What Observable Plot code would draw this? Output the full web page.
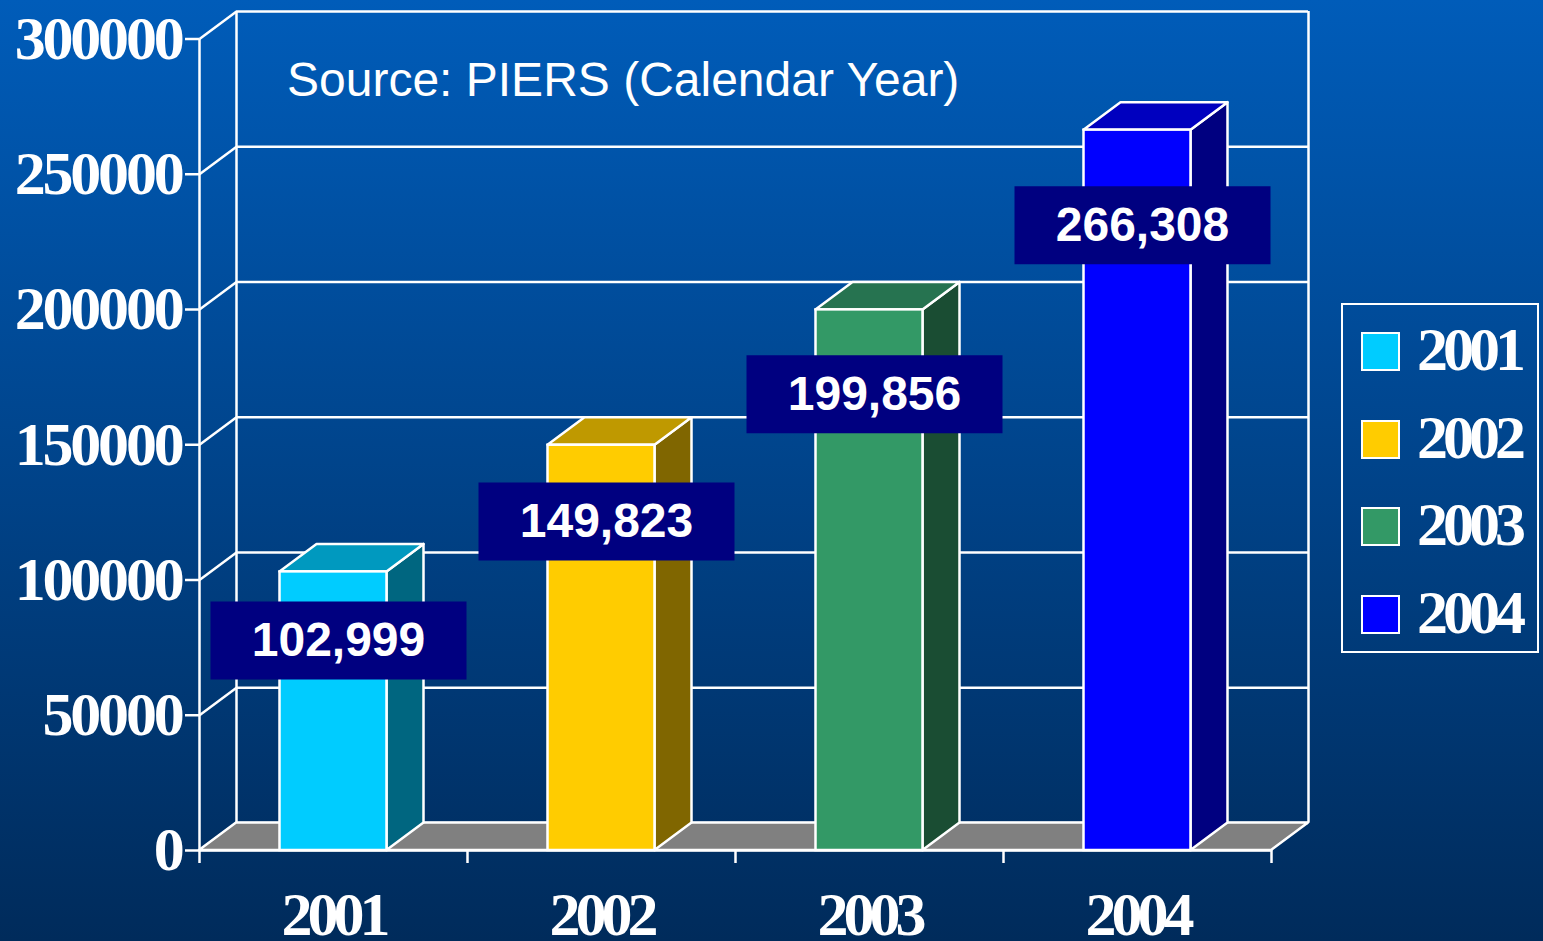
<!DOCTYPE html>
<html>
<head>
<meta charset="utf-8">
<script src="https://cdn.jsdelivr.net/npm/d3@7"></script>
<script src="https://cdn.jsdelivr.net/npm/@observablehq/plot@0.6"></script>
<style>
  html, body { margin: 0; padding: 0; }
  #stage {
    position: relative; width: 1543px; height: 941px; overflow: hidden;
    background: linear-gradient(to bottom, #005cb9 0%, #00468f 45%, #002b5b 100%);
  }
  #stage svg { position: absolute; left: 0; top: 0; }
  g[aria-label="y-axis tick label"] text { letter-spacing: -3.2px; }
  g[aria-label="text"][font-size="62"] text { letter-spacing: -5px; }
  #source {
    position: absolute; left: 287px; top: 52px;
    font: 48px "Liberation Sans", Arial, sans-serif; color: white; white-space: nowrap;
  }
  #legend {
    position: absolute; left: 1341px; top: 303px; width: 194px; height: 346px;
    border: 2px solid white;
  }
  .li { position: absolute; left: 0; height: 40px; }
  .sw { position: absolute; left: 18px; top: 0; width: 35px; height: 35px; border: 2px solid white; }
  .lt {
    position: absolute; left: 74px; top: -14px; color: white; white-space: nowrap;
    font: bold 62px "Liberation Serif", "Times New Roman", serif; letter-spacing: -5px; line-height: 62px;
  }
</style>
</head>
<body>
<div id="stage">
  <div id="source">Source: PIERS (Calendar Year)</div>
  <div id="legend"></div>
</div>
<script>
// ---- data ----
const years = [2001, 2002, 2003, 2004];
const values = [102999, 149823, 199856, 266308];
const valueLabels = ["102,999", "149,823", "199,856", "266,308"];
const frontColors = ["#00ccff", "#ffcc00", "#339966", "#0000ff"];
const topColors = ["#0099bf", "#bf9900", "#267350", "#0000bf"];
const sideColors = ["#006680", "#806600", "#1a4d33", "#000080"];
const yTicks = [0, 50000, 100000, 150000, 200000, 250000, 300000];

// ---- geometry ----
const W = 1543, H = 941;
const mL = 199, mR = W - 1271, mT = 38.5, mB = H - 850;
const xDom = [years[0] - 0.5, years[years.length - 1] + 0.5];
const yDom = [0, 300000];
const pxX = (xDom[1] - xDom[0]) / (W - mL - mR);
const pxY = (yDom[1] - yDom[0]) / (H - mT - mB);
const DEPTH_X = 37, DEPTH_Y = 27.5;
const DX = DEPTH_X * pxX, DY = DEPTH_Y * pxY;
const HW = 53.5 * pxX;
const SW = 2.5;

const bars = years.map((year, i) => ({
  year, value: values[i], label: valueLabels[i],
  front: frontColors[i], top: topColors[i], side: sideColors[i]
}));
const topPts = bars.flatMap(b => [
  {year: b.year, y: b.value, x1: b.year - HW, x2: b.year + HW, fill: b.top},
  {year: b.year, y: b.value + DY, x1: b.year - HW + DX, x2: b.year + HW + DX, fill: b.top}
]);
const sidePts = bars.flatMap(b => [
  {year: b.year, x: b.year + HW, y1: 0, y2: b.value, fill: b.side},
  {year: b.year, x: b.year + HW + DX, y1: DY, y2: b.value + DY, fill: b.side}
]);
const floorPts = [
  {y: 0, x1: xDom[0], x2: xDom[1]},
  {y: DY, x1: xDom[0] + DX, x2: xDom[1] + DX}
];
const boundaries = years.map(y => y - 0.5).concat([xDom[1]]);

const boxSymbol = { draw(ctx) { ctx.rect(-128, -39, 256, 78); } };
const serif = "Liberation Serif, Times New Roman, serif";
const sans = "Liberation Sans, Arial, sans-serif";

const chart = Plot.plot({
  width: W, height: H,
  marginLeft: mL, marginRight: mR, marginTop: mT, marginBottom: mB,
  style: {background: "transparent", color: "white", overflow: "visible"},
  x: {type: "linear", domain: xDom, axis: null},
  y: {domain: yDom, axis: null},
  color: {type: "identity"},
  marks: [
    // back wall
    Plot.ruleY(yTicks, {x1: xDom[0], x2: xDom[1], dx: DEPTH_X, dy: -DEPTH_Y, stroke: "white", strokeWidth: SW}),
    Plot.ruleX(xDom, {y1: yDom[0], y2: yDom[1], dx: DEPTH_X, dy: -DEPTH_Y, stroke: "white", strokeWidth: SW}),
    // side wall diagonals
    Plot.link(yTicks, {x1: xDom[0], y1: d => d, x2: xDom[0] + DX, y2: d => d + DY, stroke: "white", strokeWidth: SW}),
    // floor
    Plot.areaX(floorPts, {y: "y", x1: "x1", x2: "x2", fill: "#808080", stroke: "white", strokeWidth: SW}),
    // bars
    Plot.areaY(sidePts, {x: "x", y1: "y1", y2: "y2", z: "year", fill: "fill", stroke: "white", strokeWidth: SW}),
    Plot.areaX(topPts, {y: "y", x1: "x1", x2: "x2", z: "year", fill: "fill", stroke: "white", strokeWidth: SW}),
    Plot.rect(bars, {x1: d => d.year - HW, x2: d => d.year + HW, y1: 0, y2: "value", fill: "front", stroke: "white", strokeWidth: SW}),
    // front axes
    Plot.ruleX([xDom[0]], {y1: yDom[0], y2: yDom[1], stroke: "white", strokeWidth: SW}),
    Plot.ruleY([0], {x1: xDom[0], x2: xDom[1], stroke: "white", strokeWidth: SW}),
    Plot.ruleX(boundaries, {y1: 0, y2: -13 * pxY, stroke: "white", strokeWidth: SW}),
    Plot.axisY({ticks: yTicks, tickSize: 14, tickPadding: 4, tickFormat: d => String(d),
      fontSize: 62, fontFamily: serif, fontWeight: "bold", stroke: "white", strokeWidth: SW, fill: "white"}),
    Plot.text(years, {x: d => d, y: 0, dy: 65, text: d => String(d), fill: "white",
      fontSize: 62, fontFamily: serif, fontWeight: "bold"}),
    // value labels
    Plot.dot(bars, {x: "year", y: d => d.value * 0.94, dx: 5, dy: 52, symbol: boxSymbol, fill: "#000080", stroke: "none"}),
    Plot.text(bars, {x: "year", y: d => d.value * 0.94, dx: 5, dy: 52, text: "label", fill: "white",
      fontSize: 48, fontWeight: "bold", fontFamily: sans})
  ]
});
document.getElementById("stage").appendChild(chart);

// legend
const legend = document.getElementById("legend");
years.forEach((y, i) => {
  const item = document.createElement("div");
  item.className = "li";
  item.style.top = (27 + i * 87.5) + "px";
  item.innerHTML = `<div class="sw" style="background:${frontColors[i]}"></div><div class="lt">${y}</div>`;
  legend.appendChild(item);
});
</script>
</body>
</html>
